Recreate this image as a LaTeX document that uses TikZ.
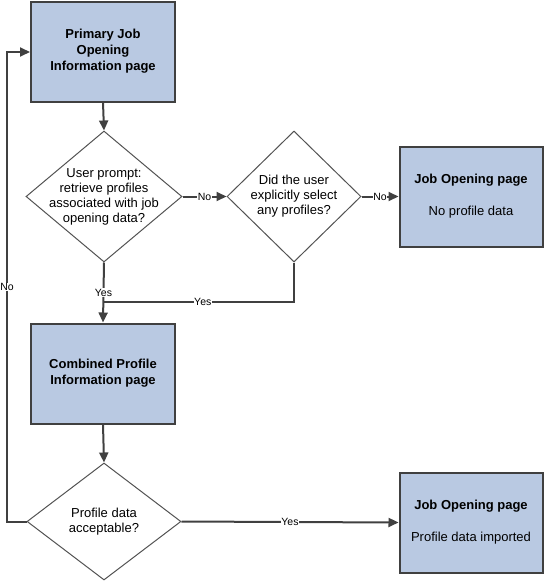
\documentclass[tikz,border=0pt]{standalone}
\usepackage{fontspec}
\setmainfont{Liberation Sans}
\usetikzlibrary{shapes.geometric,arrows.meta}
\definecolor{boxfill}{RGB}{185,201,226}
\definecolor{edge}{RGB}{64,64,64}
\tikzset{
  pagebox/.style={draw=edge, line width=2pt, fill=boxfill, inner sep=0pt, align=center,
    font=\fontsize{13}{16}\selectfont},
  dia/.style={diamond, draw=edge!90, line width=1pt, inner sep=0pt, fill=white},
  diatext/.style={align=center, font=\fontsize{13}{15}\selectfont},
  conn/.style={draw=edge, line width=2pt, -{Triangle[length=10pt,width=9pt]}},
  plain/.style={draw=edge, line width=2pt},
  lab/.style={fill=white, inner sep=0.5pt, font=\fontsize{10.5}{12}\selectfont}
}
\begin{document}
\begin{tikzpicture}[x=1pt,y=-1pt]
\useasboundingbox (0,0) rectangle (544,581);
% boxes
\node[pagebox, minimum width=144pt, minimum height=100pt] (b1) at (103,51.5)
  {\textbf{Primary Job}\\\textbf{Opening}\\\textbf{Information page}};
\node[pagebox, minimum width=144pt, minimum height=100pt] (b2) at (103,373.5)
  {\textbf{Combined Profile}\\\textbf{Information page}};
\node[pagebox, minimum width=143pt, minimum height=100pt] (b3) at (471,196.5)
  {\textbf{Job Opening page}\\[16pt]No profile data};
\node[pagebox, minimum width=143pt, minimum height=100pt] (b4) at (471,522.5)
  {\textbf{Job Opening page}\\[16pt]Profile data imported};
% diamonds
\node[dia, minimum width=156pt, minimum height=131pt] (d1) at (104,196.5) {};
\node[diatext] (t1) at (d1.center) {User prompt:\\retrieve profiles\\associated with job\\opening data?};
\node[dia, minimum width=134pt, minimum height=131pt] (d2) at (294,196.5) {};
\node[diatext] (t2) at (d2.center) {Did the user\\explicitly select\\any profiles?};
\node[dia, minimum width=154pt, minimum height=117pt] (d3) at (104,521.5) {};
\node[diatext] (t3) at (d3.center) {Profile data\\acceptable?};
% junction / loop coordinates
\coordinate (j) at (104,302);
\coordinate (lb) at (7,521.5);
\coordinate (lt) at (7,52);
% connectors
\draw[conn] (b1.south) -- (d1.north);
\draw[conn] (d1.east) -- node[lab] {No} (d2.west);
\draw[conn] (d2.east) -- node[lab] {No} (b3.west);
\draw[conn] (d1.south) -- node[lab] {Yes} (b2.north);
\draw[plain] (d2.south) |- node[lab, pos=0.74] {Yes} (j);
\draw[conn] (b2.south) -- (d3.north);
\draw[conn] (d3.east) -- node[lab] {Yes} (b4.west);
\draw[conn] (d3.west) -- (lb) -- node[lab] {No} (lt) -- (b1.west |- lt);
\end{tikzpicture}
\end{document}
